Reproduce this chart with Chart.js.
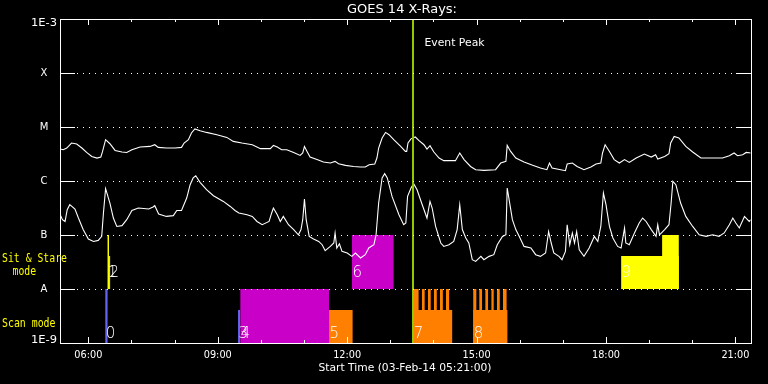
<!DOCTYPE html>
<html><head><meta charset="utf-8">
<script src="https://cdn.jsdelivr.net/npm/chart.js@4.4.1/dist/chart.umd.min.js"></script>
<style>html,body{margin:0;padding:0;background:#000;}canvas{display:block;}</style>
</head><body>
<canvas id="c" width="768" height="384"></canvas>
<script>
// ---- GOES 14 long channel (1-8 A) : time in decimal hours (UT), flux W/m^2
const longTime = [5.34,5.42,5.50,5.61,5.73,5.85,5.96,6.08,6.20,6.29,
 6.33,6.40,6.50,6.62,6.78,6.89,7.01,7.20,7.43,7.54,
 7.62,7.81,8.01,8.16,8.22,8.32,8.39,8.47,8.59,8.74,
 8.98,9.21,9.36,9.56,9.80,9.99,10.22,10.29,10.38,10.48,
 10.60,10.76,10.91,10.97,11.01,11.07,11.14,11.30,11.45,11.61,
 11.72,11.80,11.96,12.15,12.31,12.42,12.51,12.64,12.69,12.73,
 12.81,12.89,12.97,13.08,13.24,13.35,13.38,13.41,13.48,13.58,
 13.66,13.78,13.85,13.92,14.01,14.13,14.24,14.51,14.61,14.71,
 14.86,14.98,15.17,15.44,15.56,15.68,15.71,15.79,15.91,16.10,
 16.30,16.48,16.63,16.69,16.75,16.95,17.06,17.10,17.22,17.33,
 17.49,17.65,17.77,17.88,17.92,17.98,18.08,18.19,18.31,18.43,
 18.54,18.70,18.89,19.05,19.15,19.20,19.36,19.46,19.50,19.58,
 19.69,19.85,20.01,20.20,20.39,20.70,20.86,20.97,21.05,21.17,
 21.25,21.36];
const longFlux = [3.91e-6,3.80e-6,4.08e-6,5.05e-6,4.84e-6,4.08e-6,3.38e-6,2.85e-6,2.66e-6,2.78e-6,
 3.53e-6,5.82e-6,4.90e-6,3.68e-6,3.44e-6,3.38e-6,3.80e-6,4.26e-6,4.37e-6,4.70e-6,
 4.19e-6,4.08e-6,4.08e-6,4.19e-6,5.05e-6,5.82e-6,7.74e-6,9.18e-6,8.54e-6,7.94e-6,
 7.20e-6,6.42e-6,5.41e-6,5.05e-6,4.70e-6,3.97e-6,3.97e-6,4.56e-6,4.26e-6,3.80e-6,
 3.80e-6,3.38e-6,2.98e-6,3.30e-6,4.37e-6,3.53e-6,2.78e-6,2.49e-6,2.25e-6,2.15e-6,
 2.31e-6,2.09e-6,1.95e-6,1.86e-6,1.82e-6,1.82e-6,2.00e-6,2.06e-6,2.66e-6,4.08e-6,
 6.26e-6,7.94e-6,7.20e-6,5.82e-6,4.37e-6,3.53e-6,3.53e-6,5.05e-6,6.04e-6,6.53e-6,
 5.65e-6,4.70e-6,3.91e-6,4.50e-6,3.44e-6,2.66e-6,2.38e-6,2.38e-6,3.30e-6,2.49e-6,
 1.86e-6,1.62e-6,1.57e-6,1.62e-6,2.15e-6,2.31e-6,4.56e-6,3.53e-6,2.66e-6,2.25e-6,
 1.95e-6,1.74e-6,1.62e-6,2.15e-6,1.74e-6,1.62e-6,1.55e-6,2.06e-6,2.15e-6,1.86e-6,
 1.62e-6,1.82e-6,2.06e-6,2.15e-6,3.30e-6,4.70e-6,3.53e-6,2.49e-6,2.15e-6,2.49e-6,
 2.21e-6,2.66e-6,3.16e-6,2.78e-6,3.07e-6,2.56e-6,2.85e-6,3.20e-6,5.05e-6,6.70e-6,
 6.26e-6,4.37e-6,3.44e-6,2.66e-6,2.66e-6,2.66e-6,2.94e-6,3.30e-6,2.94e-6,3.07e-6,
 3.38e-6,3.30e-6];

// ---- GOES 14 short channel (0.5-4 A)
const shortTime = [5.34,5.40,5.46,5.51,5.57,5.69,5.77,5.88,6.00,6.12,
 6.23,6.31,6.35,6.40,6.50,6.58,6.66,6.78,6.89,7.01,
 7.16,7.40,7.50,7.54,7.63,7.81,7.97,8.05,8.16,8.28,
 8.36,8.43,8.49,8.59,8.74,8.90,9.13,9.29,9.40,
 9.49,9.68,9.80,9.91,10.03,10.19,10.25,10.29,10.38,10.45,10.52,
 10.64,10.76,10.87,10.93,10.97,11.01,11.05,11.12,11.22,11.34,
 11.42,11.49,11.61,11.69,11.72,11.76,11.82,11.88,12.00,12.11,
 12.19,12.31,12.42,12.50,12.62,12.67,12.73,12.81,12.87,12.93,
 13.04,13.20,13.31,
 13.36,13.40,13.48,13.54,13.62,13.74,13.85,
 13.92,13.97,14.05,14.17,14.24,14.36,14.47,14.55,14.61,14.67,
 14.75,14.82,14.90,14.98,15.10,15.17,15.29,15.40,15.48,15.60,
 15.68,15.71,15.78,15.83,15.91,15.99,16.10,16.26,16.37,16.48,
 16.60,16.67,16.73,16.79,16.91,16.98,17.06,17.10,17.16,17.22,
 17.27,17.32,17.38,
 17.49,17.61,17.73,17.81,17.84,17.88,17.94,
 18.00,18.08,18.16,18.27,18.35,18.43,18.46,18.54,18.66,18.77,
 18.85,18.93,19.05,19.16,19.20,19.24,19.36,19.46,19.51,19.55,
 19.62,19.73,19.85,20.01,20.16,20.32,20.47,20.62,20.74,20.86,
 20.94,21.01,21.09,21.21,21.32,21.36];
const shortFlux = [2.45e-7,1.92e-7,1.78e-7,2.94e-7,3.64e-7,3.03e-7,2.06e-7,1.26e-7,8.43e-8,7.60e-8,
 7.94e-8,9.42e-8,2.56e-7,7.20e-7,3.91e-7,2.06e-7,1.44e-7,1.49e-7,1.92e-7,2.85e-7,
 3.16e-7,3.03e-7,3.30e-7,3.49e-7,2.45e-7,2.21e-7,2.28e-7,2.85e-7,2.85e-7,4.84e-7,
 8.54e-7,1.14e-6,1.25e-6,9.42e-7,6.90e-7,5.34e-7,4.19e-7,3.38e-7,2.85e-7,
 2.56e-7,2.38e-7,2.21e-7,1.78e-7,1.55e-7,1.78e-7,2.56e-7,3.16e-7,2.38e-7,1.78e-7,2.21e-7,
 1.55e-7,1.26e-7,1.01e-7,1.26e-7,1.92e-7,4.64e-7,1.92e-7,9.42e-8,8.43e-8,7.60e-8,
 6.61e-8,5.12e-8,6.15e-8,7.11e-8,1.09e-7,5.75e-8,6.90e-8,4.97e-8,4.64e-8,4.02e-8,
 4.64e-8,3.75e-8,4.32e-8,5.75e-8,6.61e-8,1.01e-7,3.91e-7,1.14e-6,1.37e-6,1.14e-6,
 5.19e-7,2.38e-7,1.55e-7,
 1.67e-7,5.19e-7,7.42e-7,8.91e-7,6.90e-7,3.64e-7,2.06e-7,
 4.19e-7,3.16e-7,1.44e-7,7.11e-8,6.15e-8,6.61e-8,7.60e-8,1.26e-7,3.64e-7,1.26e-7,
 8.80e-8,7.11e-8,3.49e-8,3.24e-8,4.02e-8,3.49e-8,4.02e-8,4.32e-8,6.61e-8,9.42e-8,
 1.01e-7,7.42e-7,3.38e-7,1.92e-7,1.26e-7,9.42e-8,6.15e-8,5.75e-8,4.32e-8,4.02e-8,
 4.64e-8,1.16e-7,7.11e-8,4.64e-8,4.02e-8,3.49e-8,4.97e-8,1.55e-7,6.61e-8,1.09e-7,
 7.11e-8,1.16e-7,5.34e-8,
 4.02e-8,5.75e-8,9.42e-8,7.60e-8,1.01e-7,1.44e-7,5.99e-7,
 3.64e-7,1.44e-7,8.80e-8,6.15e-8,5.75e-8,1.35e-7,7.11e-8,6.61e-8,1.09e-7,1.67e-7,
 2.06e-7,1.78e-7,1.26e-7,9.42e-8,1.55e-7,1.01e-7,1.26e-7,1.55e-7,3.91e-7,9.83e-7,
 8.54e-7,3.91e-7,2.21e-7,1.44e-7,1.01e-7,9.42e-8,1.01e-7,9.42e-8,1.09e-7,1.55e-7,
 2.06e-7,1.67e-7,1.35e-7,2.21e-7,1.78e-7,1.92e-7];

// ---- observations (IRIS-like timeline)
const obsIds   = ['0','1','2','3','4','5','6','7','8','9'];
const obsMode  = ['scan','sit','sit','scan','scan','scan','sit','scan','scan','sit'];
const obsKind  = ['blue','yellow','yellow','blue','magenta','orange','magenta','orange','orange','yellow'];
const obsStart = [6.39,6.44,6.48,9.47,9.52,11.58,12.11,13.53,14.92,18.35];
const obsEnd   = [6.45,6.48,6.51,9.52,11.58,12.13,13.08,14.44,15.72,19.69];
const obsTop   = [1e-8,1e-7,4.1e-8,4.1e-9,1e-8,4.1e-9,1e-7,4.1e-9,4.1e-9,4.1e-8];
// extra parts of observations (raster teeth, taller part)
const partObs   = [7,7,7,7,7,7,8,8,8,8,8,8,9];
const partStart = [13.53,13.73,13.87,14.01,14.15,14.29,14.92,15.06,15.20,15.34,15.47,15.61,19.30];
const partEnd   = [13.66,13.80,13.94,14.08,14.22,14.37,15.00,15.13,15.27,15.40,15.54,15.70,19.69];
const partTop   = [1e-8,1e-8,1e-8,1e-8,1e-8,1e-8,1e-8,1e-8,1e-8,1e-8,1e-8,1e-8,1e-7];

const bandBase = {scan:1e-9, sit:1e-8};
const eventPeak = 13.53;
const timeMin = 5.35, timeMax = 21.35;   // 05:21 .. 21:21
const yTickValues = [1e-9,1e-8,1e-7,1e-6,1e-5,1e-4,1e-3];
const yTickLabels = ['1E-9','A','B','C','M','X','1E-3'];
const xMajorHours = [6,9,12,15,18,21];
const xMajorLabels = ['06:00','09:00','12:00','15:00','18:00','21:00'];
const xHourTicks = [6,7,8,9,10,11,12,13,14,15,16,17,18,19,20,21];

const kindColor = {blue:'#6464f0', yellow:'#ffff00', magenta:'#c800c8', orange:'#ff8000'};

const datasets = [
  {data: longTime.map((t,i)=>({x:t,y:longFlux[i]})), borderColor:'#ffffff', borderWidth:1.1, pointRadius:0, fill:false, order:0},
  {data: shortTime.map((t,i)=>({x:t,y:shortFlux[i]})), borderColor:'#ffffff', borderWidth:1.1, pointRadius:0, fill:false, order:0}
];
function addRect(s,e,top,mode,kind){
  datasets.push({data:[{x:s,y:top},{x:e,y:top}], borderWidth:0, borderColor:'rgba(0,0,0,0)',
    backgroundColor:kindColor[kind], pointRadius:0, fill:{value:bandBase[mode]}, order:5});
}
obsIds.forEach((id,i)=>addRect(obsStart[i],obsEnd[i],obsTop[i],obsMode[i],obsKind[i]));
partObs.forEach((o,j)=>addRect(partStart[j],partEnd[j],partTop[j],obsMode[o],obsKind[o]));

function txt(ctx,s,x,y,size,color,align,fitW,family){
  ctx.save();
  ctx.font = size+'px ' + (family || '"DejaVu Sans"');
  ctx.fillStyle = color; ctx.textAlign = align; ctx.textBaseline = 'middle';
  ctx.translate(x,y);
  if(fitW){ const w = ctx.measureText(s).width; ctx.scale(fitW/w,1); }
  ctx.fillText(s,0,0);
  ctx.restore();
}

const idlPlugin = {
  id:'idl',
  beforeDraw(chart){ const c=chart.ctx; c.save(); c.fillStyle='#000'; c.fillRect(0,0,chart.width,chart.height); c.restore(); },
  afterDatasetsDraw(chart){
    const ctx = chart.ctx, a = chart.chartArea, xs = chart.scales.x, ys = chart.scales.y;
    const L = Math.round(a.left), R = Math.round(a.right), T = Math.round(a.top), B = Math.round(a.bottom);
    ctx.save();
    // event peak line
    const ep = xs.getPixelForValue(eventPeak);
    ctx.fillStyle = '#96c800';
    ctx.fillRect(Math.round(ep)-1, T, 2, B-T);
    // grid + y ticks
    ctx.fillStyle = '#ffffff';
    yTickValues.forEach((v,i)=>{
      const py = Math.round(ys.getPixelForValue(v));
      if(i>0 && i<yTickValues.length-1){
        for(let px=L+17; px<R-15; px+=6) ctx.fillRect(px,py,1,1);
        ctx.fillRect(L,py,15,1); ctx.fillRect(R-15,py,15,1);
      }
    });
    // x ticks
    xHourTicks.forEach(h=>{
      const px = Math.round(xs.getPixelForValue(h));
      const len = (h%3===0) ? 6 : 3;
      ctx.fillRect(px,B-len,1,len);
      ctx.fillRect(px,T,1,len);
    });
    // frame
    ctx.fillRect(L,T,R-L+1,1); ctx.fillRect(L,B,R-L+1,1);
    ctx.fillRect(L,T,1,B-T+1); ctx.fillRect(R,T,1,B-T+1);
    // y labels
    yTickValues.forEach((v,i)=>{
      let py = ys.getPixelForValue(v);
      py = Math.min(Math.max(py, T+4), B-3);
      txt(ctx,yTickLabels[i],44,py,10,'#ffffff','center',yTickLabels[i].length>1?26:null);
    });
    // x labels
    xMajorHours.forEach((h,i)=>{
      txt(ctx,xMajorLabels[i],xs.getPixelForValue(h),355.5,10,'#ffffff','center',28);
    });
    txt(ctx,'Start Time (03-Feb-14 05:21:00)',405,368,10.5,'#ffffff','center',173);
    txt(ctx,'GOES 14 X-Rays:',402,9.5,12,'#ffffff','center',110);
    txt(ctx,'Event Peak',424.5,43,10.5,'#ffffff','left',60);
    // mode labels
    const mono = '"DejaVu Sans Mono"';
    txt(ctx,'Sit & Stare',2,258.5,13,'#ffff00','left',65,mono);
    txt(ctx,'mode',12.5,271.5,13,'#ffff00','left',23.5,mono);
    txt(ctx,'Scan mode',2,324,13,'#ffff00','left',53.5,mono);
    // observation numbers
    obsIds.forEach((id,i)=>{
      const px = xs.getPixelForValue(obsStart[i]) + 0.5;
      const base = ys.getPixelForValue(bandBase[obsMode[i]]);
      const py = obsMode[i]==='scan' ? base-5 : base-12;
      ctx.save();
      ctx.font = '200 15px "DejaVu Sans"'; ctx.fillStyle='#ffffff';
      ctx.textAlign='left'; ctx.textBaseline='alphabetic';
      ctx.fillText(id,px,py);
      ctx.restore();
    });
    ctx.restore();
  }
};

new Chart(document.getElementById('c'), {
  type:'line',
  data:{datasets},
  options:{
    responsive:false, animation:false, devicePixelRatio:1,
    layout:{padding:{left:60.3,right:17.5,top:19,bottom:41}},
    plugins:{legend:{display:false}, tooltip:{enabled:false}, title:{display:false}},
    elements:{line:{tension:0}},
    scales:{
      x:{type:'linear', min:timeMin, max:timeMax, display:false},
      y:{type:'logarithmic', min:1e-9, max:1e-3, display:false}
    }
  },
  plugins:[idlPlugin]
});
</script>
</body></html>
